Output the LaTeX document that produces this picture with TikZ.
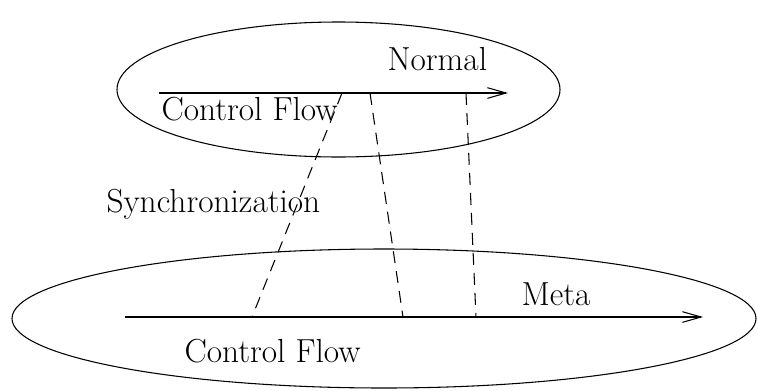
\documentclass[tikz,border=0pt]{standalone}
\usepackage{fontspec}
\usetikzlibrary{arrows.meta}
\begin{document}
\begin{tikzpicture}[x=0.75pt,y=-0.75pt,
  line width=0.8pt,
  flow/.style={-{Straight Barb[length=14pt,width=8pt,line width=0.8pt]}},
  sync/.style={dash pattern=on 9pt off 6pt},
  lbl/.style={anchor=base west,inner sep=0pt,font=\fontsize{25}{30}\selectfont}]
\useasboundingbox (0,0) rectangle (757,390);

% the two control-flow levels
\draw (338.5,89.5) ellipse [x radius=221.5, y radius=67.5];
\draw (384,318.5) ellipse [x radius=372, y radius=69.5];

% flow arrows
\coordinate (ns) at (159,93);
\coordinate (ne) at (508,93);
\coordinate (ms) at (125,317);
\coordinate (me) at (703,317);
\draw[flow] (ns) -- (ne);
\draw[flow] (ms) -- (me);

% synchronization points
\coordinate (n1) at (342,93);
\coordinate (n2) at (370,93);
\coordinate (n3) at (466,93);
\coordinate (m1) at (252,317);
\coordinate (m2) at (403,317);
\coordinate (m3) at (476,317);
\draw[sync] (n1) -- (m1);
\draw[sync] (n2) -- (m2);
\draw[sync] (n3) -- (m3);

% labels
\node[lbl] (normal) at (387,70) {Normal};
\node[lbl] (cfn) at (161,120) {Control Flow};
\node[lbl] (syn) at (106,212) {Synchronization};
\node[lbl] (meta) at (521,305) {Meta};
\node[lbl] (cfm) at (184,362) {Control Flow};
\end{tikzpicture}
\end{document}
